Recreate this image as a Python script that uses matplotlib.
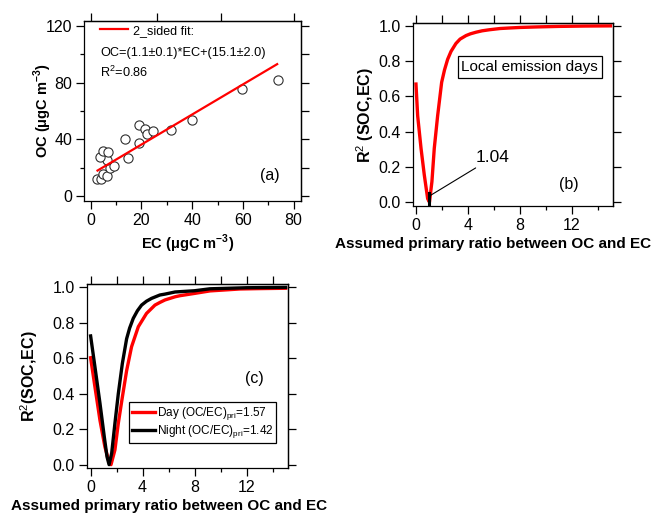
import matplotlib
matplotlib.use("Agg")
import matplotlib.pyplot as plt
from matplotlib.ticker import MultipleLocator, FixedLocator

plt.rcParams['font.family'] = ['Liberation Sans', 'DejaVu Sans']
plt.rcParams['mathtext.fontset'] = 'custom'
plt.rcParams['mathtext.rm'] = 'Liberation Sans'
plt.rcParams['mathtext.bf'] = 'Liberation Sans:bold'

# (a) OC vs EC scatter
ec = [2.4, 3.9, 4.7, 6.3, 7.6, 9.3, 6.3, 3.7, 4.7, 6.7, 14.7, 13.5, 18.9,
      19.0, 21.4, 22.3, 24.6, 31.6, 40.1, 59.8, 73.8]
oc = [12.2, 11.7, 15.5, 14.1, 19.5, 21.1, 25.4, 27.7, 31.7, 31.2, 27.0, 40.0,
      37.1, 49.8, 47.2, 43.7, 45.8, 46.3, 53.6, 75.2, 81.7]
fit_slope = 1.06
fit_icpt = 15.1
fit_range = [2.7, 73.5]
top_ticks_a = [0, 26, 51.5, 80]

# (b) R2 vs assumed primary ratio, local emission days
ratio_b = [0.0, 0.13, 0.39, 0.64, 0.9, 1.04, 1.23, 1.41, 1.67, 1.98, 2.2,
           2.44, 2.7, 3.08, 3.4, 3.86, 4.2, 4.63, 5.1, 5.66, 6.48, 7.2, 8.0,
           9.3, 11.0, 13.0, 15.0]
r2_b = [0.67, 0.49, 0.305, 0.155, 0.02, 0.0, 0.117, 0.305, 0.49, 0.68, 0.75,
        0.81, 0.855, 0.90, 0.925, 0.945, 0.955, 0.964, 0.972, 0.978, 0.985,
        0.988, 0.991, 0.994, 0.997, 0.999, 1.0]
best_b = 1.04

# (c) day / night
ratio_day = [0.0, 0.33, 0.72, 1.1, 1.41, 1.57, 1.87, 2.13, 2.44, 2.77, 3.15,
             3.67, 4.3, 4.95, 5.33, 5.72, 6.5, 6.87, 8.0, 9.18, 11.5, 13.0, 15.0]
r2_day = [0.603, 0.44, 0.25, 0.10, 0.017, 0.0, 0.083, 0.233, 0.38, 0.53, 0.665,
          0.778, 0.853, 0.90, 0.915, 0.929, 0.947, 0.953, 0.966, 0.98, 0.991,
          0.993, 0.995]
ratio_night = [0.0, 0.33, 0.72, 1.05, 1.26, 1.42, 1.62, 1.87, 2.13, 2.44, 2.77,
               3.0, 3.28, 3.6, 3.92, 4.3, 4.69, 5.33, 5.72, 6.5, 8.0, 9.18,
               12.0, 15.0]
r2_night = [0.726, 0.553, 0.346, 0.158, 0.045, 0.0, 0.064, 0.233, 0.40, 0.57,
            0.71, 0.77, 0.825, 0.868, 0.90, 0.922, 0.938, 0.957, 0.962, 0.974,
            0.981, 0.992, 0.998, 1.0]
day_best = 1.57
night_best = 1.42

TICK_W = 0.9
MAJ_LEN = 6
MIN_LEN = 3


def igor_axes(ax, top_locator, right_locator):
    # bottom/left: labelled, outward ticks
    ax.tick_params(which='both', direction='out', width=TICK_W,
                   labelsize=11.5, pad=2.5)
    ax.tick_params(which='major', length=MAJ_LEN)
    ax.tick_params(which='minor', length=MIN_LEN)
    for s in ax.spines.values():
        s.set_linewidth(0.9)
    # top/right mirror axes have their own unlabelled ticks
    top = ax.secondary_xaxis('top')
    top.xaxis.set_major_locator(top_locator)
    top.tick_params(direction='out', length=MAJ_LEN, width=TICK_W,
                    labeltop=False)
    top.spines['top'].set_linewidth(0.9)
    right = ax.secondary_yaxis('right')
    right.yaxis.set_major_locator(right_locator)
    right.tick_params(direction='out', length=MAJ_LEN, width=TICK_W,
                      labelright=False)
    right.spines['right'].set_linewidth(0.9)


fig = plt.figure(figsize=(6.51, 5.16), dpi=100)

# ---- (a)
ax1 = fig.add_axes([0.129, 0.6105, 0.333, 0.349])
ax1.scatter(ec, oc, s=44, facecolors='white', edgecolors='#303030',
            linewidths=0.8, zorder=2)
fx = fit_range
fy = [fit_slope * v + fit_icpt for v in fx]
ax1.plot(fx, fy, color='red', lw=1.6, zorder=3, label='2_sided fit:')
ax1.set_xlim(-2.64, 82.8)
ax1.set_ylim(-3.5, 123.5)
ax1.xaxis.set_major_locator(MultipleLocator(20))
ax1.xaxis.set_minor_locator(MultipleLocator(10))
ax1.yaxis.set_major_locator(MultipleLocator(40))
ax1.yaxis.set_minor_locator(MultipleLocator(20))
igor_axes(ax1, FixedLocator(top_ticks_a), MultipleLocator(20))
ax1.set_xlabel('EC (μgC m$^{\\mathbf{-3}}$)', fontsize=10.5, fontweight='bold')
ax1.set_ylabel('OC (μgC m$^{\\mathbf{-3}}$)', fontsize=10.5, fontweight='bold')
ax1.xaxis.set_label_coords(0.48, -0.175)
ax1.yaxis.set_label_coords(-0.138, 0.5)
ax1.legend(loc='upper left', bbox_to_anchor=(0.04, 1.02), frameon=False,
           fontsize=9, handlelength=2.2, handletextpad=0.4, borderaxespad=0.2)
ax1.text(0.074, 0.819, 'OC=(1.1±0.1)*EC+(15.1±2.0)', transform=ax1.transAxes,
         fontsize=9.2, va='center')
ax1.text(0.074, 0.712, 'R$^2$=0.86', transform=ax1.transAxes,
         fontsize=9.2, va='center')
ax1.text(70.6, 14.8, '(a)', fontsize=11.5, ha='center', va='center')

# ---- (b)
ax2 = fig.add_axes([0.634, 0.601, 0.308, 0.3535])
ax2.plot(ratio_b, r2_b, color='red', lw=2.4, solid_joinstyle='round')
ax2.plot([best_b, best_b], [-0.025, 0.05], color='black', lw=2.2)
ax2.annotate(f'{best_b:.2f}', xy=(best_b, 0.035), xytext=(4.6, 0.21),
             fontsize=12.5, va='bottom', ha='left',
             arrowprops=dict(arrowstyle='-', color='black', lw=0.8,
                             shrinkA=0, shrinkB=0))
ax2.set_xlim(-0.25, 15.21)
ax2.set_ylim(-0.021, 1.0136)
ax2.xaxis.set_major_locator(MultipleLocator(4))
ax2.xaxis.set_minor_locator(MultipleLocator(2))
ax2.yaxis.set_major_locator(MultipleLocator(0.2))
igor_axes(ax2, MultipleLocator(2), MultipleLocator(0.2))
ax2.set_xlabel('Assumed primary ratio between OC and EC', fontsize=11,
               fontweight='bold')
ax2.set_ylabel('R$^2$ (SOC,EC)', fontsize=11.5, fontweight='bold')
ax2.xaxis.set_label_coords(0.40, -0.17)
ax2.yaxis.set_label_coords(-0.185, 0.5)
ax2.text(8.77, 0.766, 'Local emission days', fontsize=11, ha='center',
         va='center', bbox=dict(boxstyle='square,pad=0.25', fc='white',
                                ec='black', lw=0.9))
ax2.text(11.8, 0.10, '(b)', fontsize=11.5, ha='center', va='center')

# ---- (c)
ax3 = fig.add_axes([0.133, 0.093, 0.3097, 0.3566])
ax3.plot(ratio_day, r2_day, color='red', lw=2.4, solid_joinstyle='round',
         label='Day (OC/EC)$_{\\mathrm{pri}}$=' + f'{day_best:.2f}')
ax3.plot(ratio_night, r2_night, color='black', lw=2.4, solid_joinstyle='round',
         label='Night (OC/EC)$_{\\mathrm{pri}}$=' + f'{night_best:.2f}')
ax3.set_xlim(-0.31, 15.2)
ax3.set_ylim(-0.019, 1.019)
ax3.xaxis.set_major_locator(MultipleLocator(4))
ax3.xaxis.set_minor_locator(MultipleLocator(2))
ax3.yaxis.set_major_locator(MultipleLocator(0.2))
igor_axes(ax3, MultipleLocator(2), MultipleLocator(0.2))
ax3.set_xlabel('Assumed primary ratio between OC and EC', fontsize=11,
               fontweight='bold')
ax3.set_ylabel('R$^2$(SOC,EC)', fontsize=11.5, fontweight='bold')
ax3.xaxis.set_label_coords(0.407, -0.166)
ax3.yaxis.set_label_coords(-0.232, 0.5)
leg = ax3.legend(loc='lower left', bbox_to_anchor=(0.211, 0.134), fontsize=8.5,
                 handlelength=1.9, handletextpad=0.2, borderpad=0.25,
                 labelspacing=0.1, borderaxespad=0, fancybox=False,
                 framealpha=1, edgecolor='black')
leg.get_frame().set_linewidth(0.9)
ax3.text(12.6, 0.487, '(c)', fontsize=11.5, ha='center', va='center')

fig.savefig('out.png', dpi=100)
